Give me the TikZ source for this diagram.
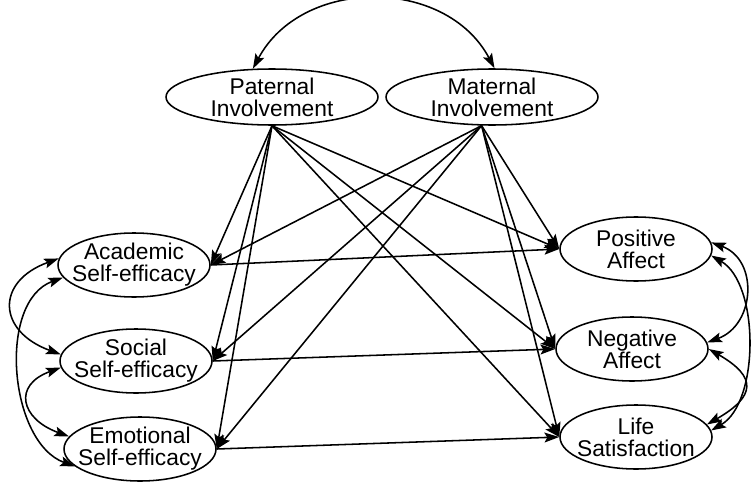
\documentclass[tikz,border=0pt]{standalone}
\usepackage{fontspec}
\setmainfont{Liberation Sans}
\usetikzlibrary{arrows.meta,shapes.geometric}

\begin{document}
\begin{tikzpicture}[->,>={Stealth[length=10.5pt,width=7pt,inset=2pt]},line width=1.1pt,
      node/.style={ellipse,draw,align=center,inner ysep=0pt,
        font=\fontsize{16.2}{15.8}\selectfont},
      parent/.style={node,inner xsep=0pt,minimum width=5.3cm,minimum height=1.4cm},
      latent/.style={node,inner xsep=-0.35cm,minimum width=3.8cm,minimum height=1.6cm}]
      \useasboundingbox (0,0) rectangle (18.875,12.025);

      \node[parent] (p0) at (6.8, 9.6) {Paternal\\Involvement};
      \node[parent] (p1) at (12.3, 9.6) {Maternal\\Involvement};

      \node[latent] (s0) at (3.35, 5.4) {Academic\\Self-efficacy};
      \node[latent] (s1) at (3.4, 3.0) {Social\\Self-efficacy};
      \node[latent] (s2) at (3.5, 0.8) {Emotional\\Self-efficacy};

      \node[latent] (o0) at (15.9, 5.8) {Positive\\Affect};
      \node[latent] (o1) at (15.8, 3.3) {Negative\\Affect};
      \node[latent] (o2) at (15.9, 1.1) {Life\\Satisfaction};

      \path
      (p0.south) edge (s0.east)
      (p0.south) edge (s1.east)
      (p0.south) edge (s2.east)
      (p0.south) edge (o0.west)
      (p0.south) edge (o1.west)
      (p0.south) edge (o2.west)

      (p1.250) edge (s0.east)
      (p1.250) edge (s1.east)
      (p1.250) edge (s2.east)
      (p1.250) edge (o0.west)
      (p1.250) edge (o1.west)
      (p1.250) edge (o2.west)

      (s0.east) edge (o0.west)
      (s1.east) edge (o1.west)
      (s2.east) edge (o2.west)
      ;

      % covariances
      \path[<->]
      (p0.124) edge[out=62,in=118,looseness=1.1] (p1.85)

      (s0.175) edge[out=200,in=160,looseness=1.8] (s1.175)
      (s0.190) edge[out=200,in=160,looseness=0.95] (s2.195)
      (s1.185) edge[out=200,in=160,looseness=1.9] (s2.170)

      (o0.5) edge[out=-20,in=20,looseness=1.3] (o1.5)
      (o0.355) edge[out=-30,in=30,looseness=0.82] (o2.5)
      (o1.0) edge[out=-30,in=30,looseness=1.9] (o2.10)
      ;
\end{tikzpicture}
\end{document}
